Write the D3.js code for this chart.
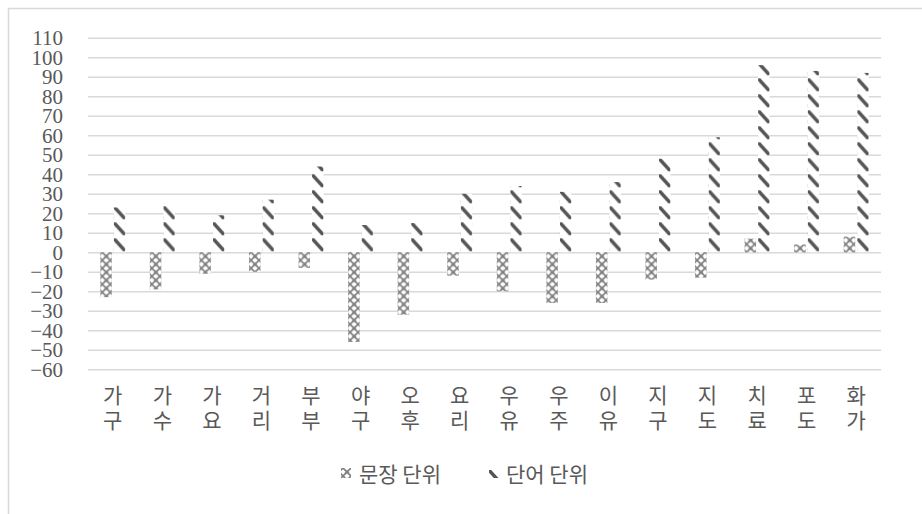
<!DOCTYPE html>
<html>
<head>
<meta charset="utf-8">
<script src="https://cdn.jsdelivr.net/npm/d3@7"></script>
<style>
  html, body { margin: 0; padding: 0; background: #fff; }
  svg { display: block; }
</style>
</head>
<body>
<svg id="chart" width="922" height="514"></svg>
<script>
// 단어별 점수: 문장 단위 / 단어 단위
const categories = ["가구","가수","가요","거리","부부","야구","오후","요리","우유","우주","이유","지구","지도","치료","포도","화가"];
const sentenceUnit = [-23, -19, -11, -10, -8, -46, -32, -12, -20, -26, -26, -14, -13, 7, 4, 8];
const wordUnit = [23, 24, 19, 27, 44, 14, 15, 30, 34, 31, 36, 48, 59, 96, 93, 92];
const yTicks = [110, 100, 90, 80, 70, 60, 50, 40, 30, 20, 10, 0, -10, -20, -30, -40, -50, -60];
const seriesNames = ["문장 단위", "단어 단위"];

const svg = d3.select("#chart");
const W = 922, H = 514;
const plot = { left: 88, right: 881, top: 37.8, bottom: 369.3 };
const textColor = "#595959";
const gridColor = "#d9d9d9";
const kFont = "'Noto Sans CJK KR', 'Noto Sans', sans-serif";
const nFont = "'Liberation Serif', 'DejaVu Serif', serif";

// chart area border
svg.append("rect")
  .attr("x", 8.5).attr("y", 8.5)
  .attr("width", W + 20).attr("height", H + 20)
  .attr("fill", "#fff").attr("stroke", gridColor).attr("stroke-width", 1.5);

// fill patterns
const defs = svg.append("defs");

// dotted-diamond pattern for 문장 단위
const pDot = defs.append("pattern")
  .attr("id", "pat-sentence")
  .attr("patternUnits", "userSpaceOnUse")
  .attr("x", 2).attr("y", 0)
  .attr("width", 8).attr("height", 8);
pDot.append("rect").attr("width", 8).attr("height", 8).attr("fill", "#fff");
const dotCells = [];
for (let i = 0; i <= 8; i++) {
  for (let j = 0; j <= 8; j++) {
    const onDiag = (i === j) || (i + j === 8);
    if (onDiag && ((i + j) % 2 === 0)) dotCells.push([i, j]);
  }
}
pDot.selectAll("rect.d").data(dotCells).join("rect")
  .attr("class", "d")
  .attr("x", d => d[0] - 0.7).attr("y", d => d[1] - 0.7)
  .attr("width", 1.4).attr("height", 1.4)
  .attr("fill", "#4f4f4f");
// small ring between crosses
pDot.append("circle").attr("cx", 4).attr("cy", 4).attr("r", 1.8)
  .attr("fill", "none").attr("stroke", "#6a6a6a").attr("stroke-width", 0.7)
  .attr("stroke-dasharray", "1 1");

// dashed downward diagonal pattern for 단어 단위
const pDash = defs.append("pattern")
  .attr("id", "pat-word")
  .attr("patternUnits", "userSpaceOnUse")
  .attr("x", 0).attr("y", 0)
  .attr("width", 12).attr("height", 16);
pDash.append("rect").attr("width", 12).attr("height", 16).attr("fill", "#fff");
pDash.append("path")
  .attr("d", "M0,2 L2.2,2 L11.5,12.2 L11.5,15 L9.3,15 L0,4.8 Z")
  .attr("fill", "#555");

// scales
const x = d3.scaleBand().domain(categories).range([plot.left, plot.right]).padding(0);
const y = d3.scaleLinear().domain([-60, 110]).range([plot.bottom, plot.top]);
const barW = 11.5;

// gridlines and y tick labels
const yAxis = d3.axisLeft(y)
  .tickValues(yTicks)
  .tickSize(-(plot.right - plot.left))
  .tickPadding(25)
  .tickFormat(d3.format("d"));
const gy = svg.append("g")
  .attr("transform", `translate(${plot.left},0)`)
  .call(yAxis);
gy.select(".domain").remove();
gy.selectAll(".tick line").attr("stroke", gridColor).attr("stroke-width", 1.5);
gy.selectAll(".tick text")
  .attr("fill", textColor)
  .attr("font-family", nFont)
  .attr("font-size", 21)
  .attr("dy", "0.33em");

const y0 = y(0);

// 문장 단위 bars
svg.append("g").selectAll("g")
  .data(categories.map((c, i) => ({ c, v: sentenceUnit[i] })))
  .join("g")
  .attr("transform", d => `translate(${x(d.c) + x.bandwidth() / 2 - barW - 1},${y0})`)
  .append("rect")
  .attr("x", 0)
  .attr("y", d => Math.min(y(d.v), y0) - y0)
  .attr("width", barW)
  .attr("height", d => Math.abs(y(d.v) - y0))
  .attr("fill", "url(#pat-sentence)");

// 단어 단위 bars
svg.append("g").selectAll("g")
  .data(categories.map((c, i) => ({ c, v: wordUnit[i] })))
  .join("g")
  .attr("transform", d => `translate(${x(d.c) + x.bandwidth() / 2 + 1},${y0})`)
  .append("rect")
  .attr("x", 0)
  .attr("y", d => Math.min(y(d.v), y0) - y0)
  .attr("width", barW)
  .attr("height", d => Math.abs(y(d.v) - y0))
  .attr("fill", "url(#pat-word)");

// category labels, one syllable per line
const labels = svg.append("g").selectAll("text")
  .data(categories)
  .join("text")
  .attr("x", d => x(d) + x.bandwidth() / 2)
  .attr("y", 403)
  .attr("text-anchor", "middle")
  .attr("fill", textColor)
  .attr("font-family", kFont)
  .attr("font-size", 21);
labels.selectAll("tspan")
  .data(d => Array.from(d))
  .join("tspan")
  .attr("x", function () { return d3.select(this.parentNode).attr("x"); })
  .attr("dy", (d, i) => i === 0 ? 0 : 25)
  .text(d => d);

// legend
const legend = svg.append("g");
const legendItems = [
  { name: seriesNames[0], fill: "url(#pat-sentence)", mx: 341, tx: 359 },
  { name: seriesNames[1], fill: "url(#pat-word)", mx: 489, tx: 506 }
];
legendItems.forEach(it => {
  legend.append("g")
    .attr("transform", `translate(${it.mx},${468})`)
    .append("rect")
    .attr("width", 10).attr("height", 10)
    .attr("fill", it.fill);
  legend.append("text")
    .attr("x", it.tx).attr("y", 482)
    .attr("fill", textColor)
    .attr("font-family", kFont)
    .attr("font-size", 21)
    .text(it.name);
});
</script>
</body>
</html>
